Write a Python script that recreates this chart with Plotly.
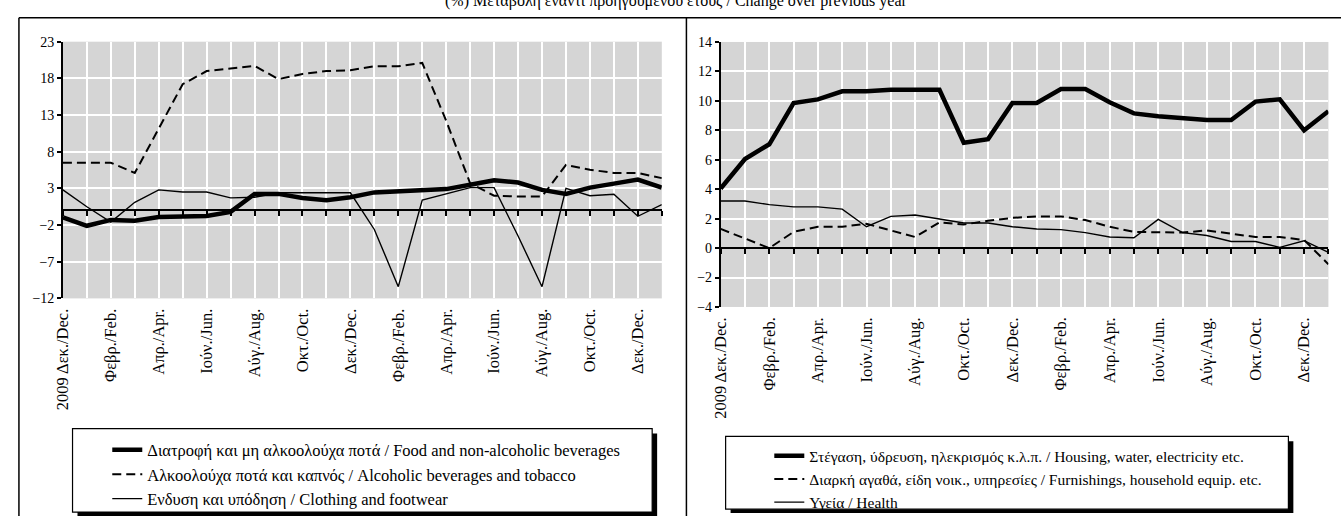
import plotly.graph_objects as go

# ---------------- data ----------------
months = ["2009 Δεκ./Dec.", "Ιαν./Jan.", "Φεβρ./Feb.", "Μάρτ./Mar.", "Απρ./Apr.", "Μάιος/May",
          "Ιούν./Jun.", "Ιούλ./Jul.", "Αύγ./Aug.", "Σεπτ./Sep.", "Οκτ./Oct.", "Νοέμ./Nov.",
          "Δεκ./Dec.", "Ιαν./Jan.", "Φεβρ./Feb.", "Μάρτ./Mar.", "Απρ./Apr.", "Μάιος/May",
          "Ιούν./Jun.", "Ιούλ./Jul.", "Αύγ./Aug.", "Σεπτ./Sep.", "Οκτ./Oct.", "Νοέμ./Nov.",
          "Δεκ./Dec.", "Ιαν./Jan."]

food = [-0.95, -2.1, -1.3, -1.4, -0.9, -0.9, -0.75, -0.2, 2.25, 2.25, 1.7, 1.4, 1.8,
        2.45, 2.6, 2.6, 2.9, 3.5, 4.1, 3.8, 2.8, 2.25, 3.1, 3.65, 4.2, 3.1]
alcohol = [6.5, 6.5, 6.5, 5.1, 11.1, 17.2, 19.0, 19.3, 19.7, 17.9, 18.6, 19.0, 19.1,
           19.65, 19.65, 20.1, 12.2, 3.7, 2.0, 1.9, 1.9, 6.2, 5.55, 5.1, 5.1, 4.4]
clothing = [2.8, 0.5, -1.6, 1.1, 2.8, 2.5, 2.5, 1.7, 1.8, 2.4, 2.4, 2.4, 2.4,
            -2.6, -10.4, 1.4, 2.3, 3.1, 3.1, -3.5, -10.4, 3.0, 2.0, 2.2, -0.8, 0.8]

housing = [4.05, 6.05, 7.05, 9.85, 10.1, 10.65, 10.65, 10.75, 10.75, 10.75, 7.15, 7.4, 9.85,
           9.85, 10.8, 10.8, 9.9, 9.15, 8.95, 8.8, 8.7, 8.7, 9.95, 10.1, 8.0, 9.3]
furnishings = [1.3, 0.65, 0.0, 1.1, 1.45, 1.45, 1.65, 1.2, 0.75, 1.75, 1.6, 1.85, 2.05,
               2.15, 2.15, 1.9, 1.45, 1.1, 1.05, 1.05, 1.2, 1.0, 0.75, 0.75, 0.55, -1.1]
health = [3.2, 3.2, 2.95, 2.8, 2.8, 2.65, 1.45, 2.15, 2.25, 1.95, 1.7, 1.7, 1.45,
          1.3, 1.25, 1.05, 0.75, 0.7, 1.95, 1.05, 0.85, 0.45, 0.45, 0.05, 0.5, -0.3]

left_names = ["Διατροφή και μη αλκοολούχα ποτά / Food and non-alcoholic beverages",
              "Αλκοολούχα ποτά και καπνός / Alcoholic beverages and tobacco",
              "Ενδυση και υπόδηση / Clothing and footwear"]
right_names = ["Στέγαση, ύδρευση, ηλεκρισμός κ.λ.π. / Housing, water, electricity etc.",
               "Διαρκή αγαθά, είδη νοικ., υπηρεσίες / Furnishings, household equip. etc.",
               "Υγεία / Health"]
title_text = "(%) Μεταβολή έναντι προηγούμενου έτους / Change over previous year"

left_yticks = [-12, -7, -2, 3, 8, 13, 18, 23]
right_yticks = [-4, -2, 0, 2, 4, 6, 8, 10, 12, 14]

# ---------------- layout helpers ----------------
W, H = 1341, 524
FONT = "Liberation Serif"


def fx(p):
    return p / W


def fy(p):
    return 1 - p / H


pos = list(range(len(months)))
tickpos = pos[::2]
ticklab = months[::2]

L_xdom = [fx(53.3), fx(656.7)]
L_ydom = [fy(300), fy(35.7)]
R_xdom = [fx(716), fx(1328.3)]
R_ydom = [fy(308.8), fy(36)]
L_rng = [left_yticks[0], left_yticks[-1]]
R_rng = [right_yticks[0], right_yticks[-1]]


def zero_pos(dom, rng):
    return dom[0] + (0 - rng[0]) / (rng[1] - rng[0]) * (dom[1] - dom[0])


fig = go.Figure()

styles = [dict(color="black", width=4.5),
          dict(color="black", width=2, dash="9px,5px"),
          dict(color="black", width=1.4)]

for name, vals, st in zip(left_names, [food, alcohol, clothing], styles):
    fig.add_trace(go.Scatter(x=pos, y=vals, mode="lines", name=name, line=st,
                             xaxis="x", yaxis="y", legend="legend"))
for name, vals, st in zip(right_names, [housing, furnishings, health], styles):
    fig.add_trace(go.Scatter(x=pos, y=vals, mode="lines", name=name, line=st,
                             xaxis="x2", yaxis="y2", legend="legend2"))

# helper traces so the zero-line axes render
fig.add_trace(go.Scatter(x=[pos[0]], y=[0], mode="lines", showlegend=False,
                         hoverinfo="skip", xaxis="x3", yaxis="y"))
fig.add_trace(go.Scatter(x=[pos[0]], y=[0], mode="lines", showlegend=False,
                         hoverinfo="skip", xaxis="x4", yaxis="y2"))

xcommon = dict(range=[pos[0], pos[-1]], tickmode="array", tickvals=tickpos, ticktext=ticklab,
               tickangle=-90, ticks="", ticklen=0, showline=False, showgrid=True, gridcolor="white",
               gridwidth=2, zeroline=False, ticklabelstandoff=6,
               tickfont=dict(family=FONT, size=16.5, color="black"),
               minor=dict(tickmode="linear", tick0=0, dtick=1, showgrid=True,
                          gridcolor="white", gridwidth=2, ticks=""))
ycommon = dict(tickmode="array", showline=True, linecolor="black", linewidth=1.5,
               ticks="outside", ticklen=4, tickcolor="black", tickwidth=1.5,
               showgrid=True, gridcolor="white", gridwidth=2, zeroline=False,
               tickfont=dict(family=FONT, size=14, color="black"))
zcommon = dict(range=[pos[0], pos[-1]], tickmode="array", tickvals=pos, showticklabels=False,
               ticks="outside", ticklen=5, tickwidth=1.5, tickcolor="black", showline=True,
               linecolor="black", linewidth=2, showgrid=False, zeroline=False,
               anchor="free", side="bottom")

fig.update_layout(
    width=W, height=H,
    margin=dict(l=0, r=0, t=0, b=0),
    paper_bgcolor="white",
    plot_bgcolor="#d5d5d5",
    xaxis=dict(domain=L_xdom, anchor="y", **xcommon),
    yaxis=dict(domain=L_ydom, anchor="x", range=L_rng, tickvals=left_yticks, **ycommon),
    xaxis2=dict(domain=R_xdom, anchor="y2", **xcommon),
    yaxis2=dict(domain=R_ydom, anchor="x2", range=R_rng, tickvals=right_yticks, **ycommon),
    xaxis3=dict(overlaying="x", position=zero_pos(L_ydom, L_rng), **zcommon),
    xaxis4=dict(overlaying="x2", position=zero_pos(R_ydom, R_rng), **zcommon),
    legend=dict(x=fx(98), y=fy(438), xanchor="left", yanchor="top",
                bgcolor="rgba(0,0,0,0)", borderwidth=0, tracegroupgap=0,
                font=dict(family=FONT, size=16.5, color="black")),
    legend2=dict(x=fx(765), y=fy(445), xanchor="left", yanchor="top",
                 bgcolor="rgba(0,0,0,0)", borderwidth=0, tracegroupgap=0,
                 font=dict(family=FONT, size=15.5, color="black")),
    showlegend=True,
)

shapes = []
# outer frame and divider
shapes.append(dict(type="line", xref="paper", yref="paper", x0=fx(9), x1=fx(1341), y0=fy(11), y1=fy(11),
                   line=dict(color="black", width=1.5)))
shapes.append(dict(type="line", xref="paper", yref="paper", x0=fx(9), x1=fx(9), y0=fy(11), y1=fy(524),
                   line=dict(color="black", width=1.5)))
shapes.append(dict(type="line", xref="paper", yref="paper", x0=fx(681.5), x1=fx(681.5), y0=fy(11), y1=fy(524),
                   line=dict(color="black", width=1.5)))
# legend boxes with shadows
for (x0, y0, x1, y1) in [(63, 434, 647, 520), (721, 442, 1288, 517)]:
    shapes.append(dict(type="rect", xref="paper", yref="paper", x0=fx(x0 + 5), x1=fx(x1 + 5),
                       y0=fy(y1 + 4), y1=fy(y0 + 5), fillcolor="black", line=dict(width=0)))
    shapes.append(dict(type="rect", xref="paper", yref="paper", x0=fx(x0), x1=fx(x1),
                       y0=fy(y1), y1=fy(y0), fillcolor="white", line=dict(color="black", width=1.2)))
fig.update_layout(shapes=shapes)

fig.add_annotation(text=title_text, xref="paper", yref="paper", x=fx(672), y=1,
                   xanchor="center", yanchor="middle", yshift=6, showarrow=False,
                   font=dict(family=FONT, size=16, color="black"))

fig.write_html("out.html", config={"displayModeBar": False},
               post_script="document.body.style.margin='0';document.body.style.overflow='hidden';")
